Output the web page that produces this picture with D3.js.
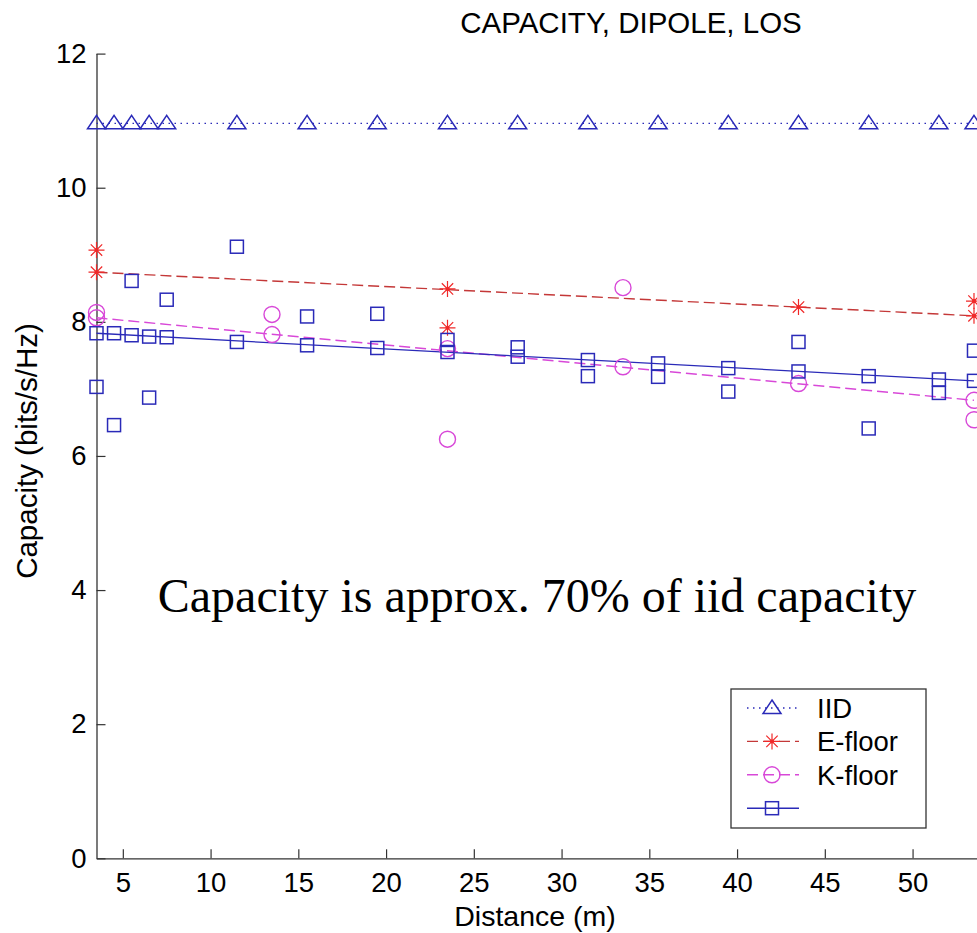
<!DOCTYPE html>
<html>
<head>
<meta charset="utf-8">
<script src="https://cdn.jsdelivr.net/npm/d3@7"></script>
<style>
  body { margin: 0; background: #fff; }
  svg { display: block; }
  text { font-family: "Liberation Sans", Arial, sans-serif; }
</style>
</head>
<body>
<svg id="drawing_region"></svg>
<script>
// IID reference capacity
const iidDist = [3.5, 4.5, 5.5, 6.5, 7.5, 11.5, 15.5, 19.5, 23.5, 27.5, 31.5, 35.5, 39.5, 43.5, 47.5, 51.5, 53.5];
const iidCap = [10.96, 10.96, 10.96, 10.96, 10.96, 10.96, 10.96, 10.96, 10.96, 10.96, 10.96, 10.96, 10.96, 10.96, 10.96, 10.96, 10.96];

// E-floor measurements
const eDist = [3.5, 3.5, 23.5, 23.5, 43.5, 53.5, 53.5];
const eCap = [9.07, 8.74, 8.49, 7.91, 8.22, 8.31, 8.09];

// K-floor measurements
const kDist = [3.5, 3.5, 13.5, 13.5, 23.5, 23.5, 33.5, 33.5, 43.5, 53.5, 53.5];
const kCap = [8.14, 8.06, 8.11, 7.81, 7.60, 6.25, 8.51, 7.33, 7.08, 6.83, 6.54];

// third set (squares)
const sDist = [3.5, 3.5, 4.5, 4.5, 5.5, 5.5, 6.5, 6.5, 7.5, 7.5, 11.5, 11.5, 15.5, 15.5, 19.5, 19.5,
               23.5, 23.5, 27.5, 27.5, 31.5, 31.5, 35.5, 35.5, 39.5, 39.5, 43.5, 43.5, 47.5, 47.5, 51.5, 51.5, 53.5, 53.5];
const sCap = [7.83, 7.03, 7.83, 6.46, 8.61, 7.80, 7.78, 6.87, 8.33, 7.77, 9.12, 7.70, 8.08, 7.65, 8.12, 7.61,
              7.73, 7.55, 7.62, 7.48, 7.43, 7.19, 7.38, 7.18, 7.31, 6.96, 7.70, 7.26, 7.19, 6.41, 7.14, 6.94, 7.57, 7.12];

// fitted trend lines (end points)
const fitDist = [3.5, 53.5];
const eFit = [8.74, 8.09];
const kFit = [8.06, 6.83];
const sFit = [7.83, 7.12];

const xTicks = [5, 10, 15, 20, 25, 30, 35, 40, 45, 50];
const yTicks = [0, 2, 4, 6, 8, 10, 12];
const legendNames = ['IID', 'E-floor', 'K-floor', ''];

const W = 977, H = 933;
const blue = '#2a2ab8', red = '#f02828', redLine = '#c43838', mag = '#d848d8', axisCol = '#333';

const svg = d3.select('#drawing_region').attr('width', W).attr('height', H);

const x = d3.scaleLinear().domain([3.5, 53.7]).range([96.5, 977.5]);
const y = d3.scaleLinear().domain([0, 12]).range([858.3, 53.6]);

// axes
const xAxis = svg.append('g')
    .attr('transform', `translate(0, ${y(0)})`)
    .call(d3.axisBottom(x).tickValues(xTicks).tickSizeInner(-9).tickSizeOuter(0).tickPadding(14));
const yAxis = svg.append('g')
    .attr('transform', `translate(${x(3.5)}, 0)`)
    .call(d3.axisLeft(y).tickValues(yTicks).tickSizeInner(-9).tickSizeOuter(0).tickPadding(10));

[xAxis, yAxis].forEach(g => {
    g.select('.domain').attr('stroke', axisCol).attr('stroke-width', 1.3);
    g.selectAll('.tick line').attr('stroke', axisCol).attr('stroke-width', 1.2);
    g.selectAll('.tick text').attr('fill', '#000')
        .style('font-size', '27.5px').style('font-family', '"Liberation Sans", Arial, sans-serif');
});

// labels
svg.append('text').attr('x', 631).attr('y', 33).attr('text-anchor', 'middle')
    .style('font-size', '29.5px').text('CAPACITY, DIPOLE, LOS');
svg.append('text').attr('x', 535).attr('y', 926).attr('text-anchor', 'middle')
    .style('font-size', '28.5px').text('Distance (m)');
svg.append('text').attr('transform', 'translate(37, 451) rotate(-90)').attr('text-anchor', 'middle')
    .style('font-size', '29.5px').text('Capacity (bits/s/Hz)');
svg.append('text').attr('x', 537).attr('y', 612).attr('text-anchor', 'middle')
    .style('font-family', '"Liberation Serif", "Times New Roman", serif').style('font-size', '48px')
    .text('Capacity is approx. 70% of iid capacity');

// lines
const line = d3.line().x(d => x(d[0])).y(d => y(d[1]));
const plot = svg.append('g');

plot.append('path').datum(d3.zip(iidDist, iidCap)).attr('d', line)
    .attr('fill', 'none').attr('stroke', blue).attr('stroke-width', 1.4).attr('stroke-dasharray', '1.5,4.5');
plot.append('path').datum(d3.zip(fitDist, eFit)).attr('d', line)
    .attr('fill', 'none').attr('stroke', redLine).attr('stroke-width', 1.4).attr('stroke-dasharray', '11,5');
plot.append('path').datum(d3.zip(fitDist, kFit)).attr('d', line)
    .attr('fill', 'none').attr('stroke', mag).attr('stroke-width', 1.4).attr('stroke-dasharray', '11,5');
plot.append('path').datum(d3.zip(fitDist, sFit)).attr('d', line)
    .attr('fill', 'none').attr('stroke', blue).attr('stroke-width', 1.3);

// marker drawers
function triangle(g) {
    g.append('path').attr('d', 'M0,-8L9,5.5L-9,5.5Z')
        .attr('fill', 'none').attr('stroke', blue).attr('stroke-width', 1.5);
}
function star(g) {
    g.append('path').attr('d', 'M-8,0H8M0,-8V8M-5.7,-5.7L5.7,5.7M-5.7,5.7L5.7,-5.7')
        .attr('stroke', red).attr('stroke-width', 1.2);
    g.append('circle').attr('r', 2).attr('fill', red);
}
function circle(g) {
    g.append('circle').attr('r', 8).attr('fill', 'none').attr('stroke', mag).attr('stroke-width', 1.4);
}
function square(g) {
    g.append('rect').attr('x', -6.5).attr('y', -6.5).attr('width', 13).attr('height', 13)
        .attr('fill', 'none').attr('stroke', blue).attr('stroke-width', 1.5);
}

function markers(dist, cap, draw) {
    plot.append('g').selectAll('g')
        .data(d3.zip(dist, cap))
        .enter()
        .append('g')
        .attr('transform', d => `translate(${x(d[0])}, ${y(d[1])})`)
        .each(function() { draw(d3.select(this)); });
}
markers(iidDist, iidCap, triangle);
markers(eDist, eCap, star);
markers(kDist, kCap, circle);
markers(sDist, sCap, square);

// legend
const legend = svg.append('g');
legend.append('rect').attr('x', 731).attr('y', 689).attr('width', 195).attr('height', 139)
    .attr('fill', '#fff').attr('stroke', axisCol).attr('stroke-width', 1.3);
const legStyles = [
    { col: blue, dash: '1.5,4.5', draw: triangle },
    { col: redLine, dash: '11,5', draw: star },
    { col: mag, dash: '11,5', draw: circle },
    { col: blue, dash: null, draw: square }
];
legendNames.forEach((name, i) => {
    const ly = 708 + i * 33.4;
    const s = legStyles[i];
    legend.append('line').attr('x1', 747).attr('x2', 799).attr('y1', ly).attr('y2', ly)
        .attr('stroke', s.col).attr('stroke-width', 1.4).attr('stroke-dasharray', s.dash);
    s.draw(legend.append('g').attr('transform', `translate(772, ${ly})`));
    legend.append('text').attr('x', 817).attr('y', ly + 10).style('font-size', '27.5px').text(name);
});
</script>
</body>
</html>
